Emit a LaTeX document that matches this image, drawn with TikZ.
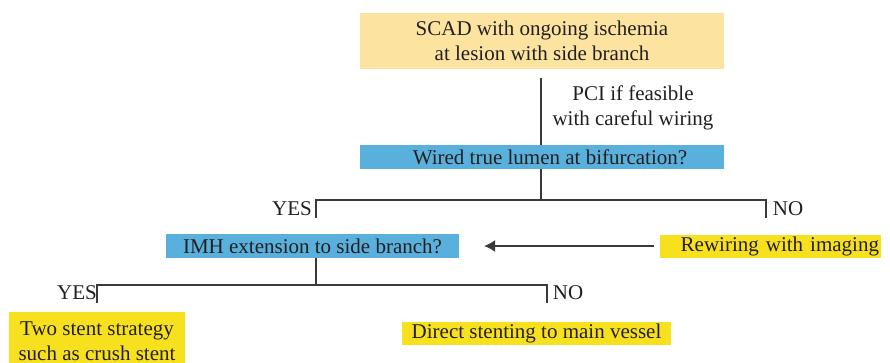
\documentclass[tikz,border=0pt]{standalone}
\usepackage{fontspec}
\setmainfont{Liberation Serif}
\usetikzlibrary{arrows.meta}
\definecolor{pale}{HTML}{FCE4A0}
\definecolor{bluebox}{HTML}{5AB0DC}
\definecolor{yel}{HTML}{F7E11F}
\definecolor{ink}{HTML}{231F20}
\definecolor{linec}{HTML}{3A3A3A}
\begin{document}
\begin{tikzpicture}[x=1pt,y=-1pt,
  every node/.style={font=\fontsize{21}{24.5}\selectfont, text=ink},
  box/.style={inner sep=0pt, align=center},
  conn/.style={draw=linec, line width=1.1pt},
  lbl/.style={inner sep=0pt, align=center}]
\useasboundingbox (0,0) rectangle (890,363);
% boxes
\node[box, fill=pale, minimum width=364pt, minimum height=56pt] (top) at (542,41) {SCAD with ongoing ischemia\\at lesion with side branch};
\node[lbl] (pci) at (633,108) {PCI if feasible\\with careful wiring};
\node[box, fill=bluebox, minimum width=364pt, minimum height=24pt] (wired) at (542,157) {\hspace*{16pt}Wired true lumen at bifurcation?};
\node[box, fill=bluebox, minimum width=293pt, minimum height=24pt] (imh) at (312.5,246) {IMH extension to side branch?};
\node[box, fill=yel, text width=217pt, inner xsep=2pt, align=right, minimum height=23pt] (rewire) at (770.5,246) {Rewiring with imaging};
\node[box, fill=yel, minimum width=176pt, minimum height=58pt] (two) at (97,341) {Two stent strategy\\such as crush stent};
\node[box, fill=yel, minimum width=269pt, minimum height=23pt] (direct) at (536.5,333.5) {Direct stenting to main vessel};
% labels
\node[lbl] (yes1) at (292,209) {YES};
\node[lbl] (no1) at (788,209) {NO};
\node[lbl] (yes2) at (77,293) {YES};
\node[lbl] (no2) at (568,293) {NO};
% connectors
\coordinate (t1) at (541,78);
\draw[conn] (t1) -- (t1 |- wired.north);
\coordinate (b1) at (541,200);
\coordinate (y1) at (316,218);
\coordinate (n1) at (766,218);
\draw[conn] (wired.south -| b1) -- (b1);
\draw[conn] (y1) |- (b1) -| (n1);
\draw[conn, shorten <=6pt, shorten >=25pt, -{Latex[length=11pt,width=12pt]}] (rewire.west) -- (imh.east);
\coordinate (b2) at (316,285);
\coordinate (y2) at (97,303);
\coordinate (n2) at (547,303);
\draw[conn] (imh.south -| b2) -- (b2);
\draw[conn] (y2) |- (b2) -| (n2);
\end{tikzpicture}
\end{document}
